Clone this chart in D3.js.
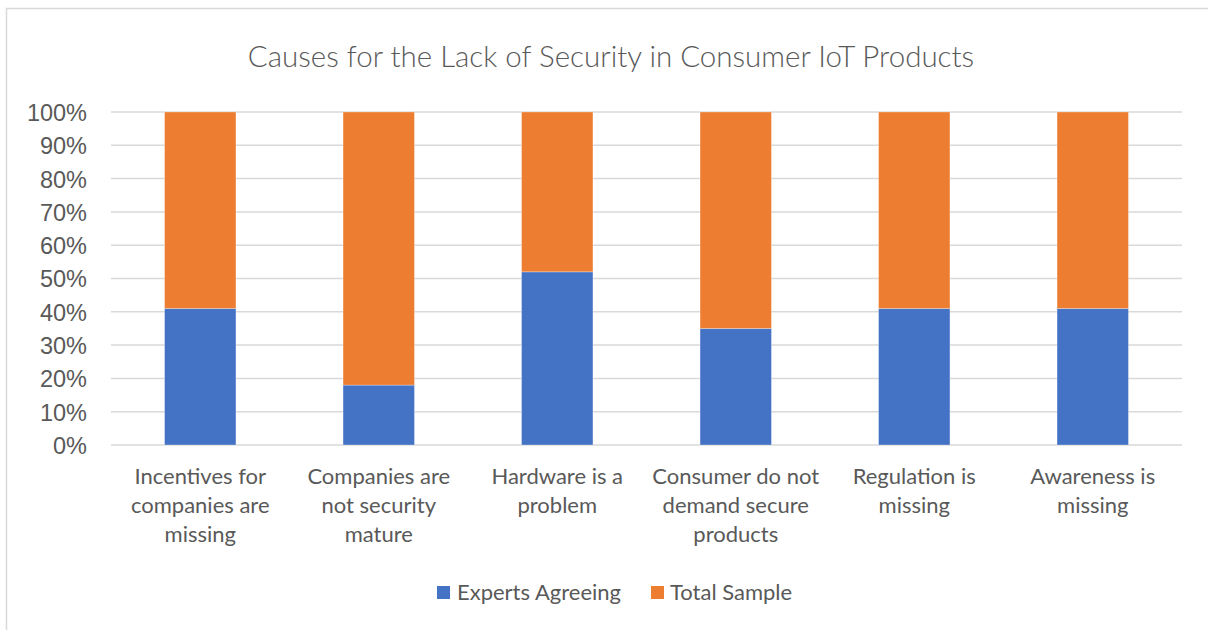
<!DOCTYPE html>
<html>
<head>
<meta charset="utf-8">
<script src="https://cdn.jsdelivr.net/npm/d3@7"></script>
<style>
  html, body { margin: 0; padding: 0; background: #fff; }
  svg { display: block; }
</style>
</head>
<body>
<svg id="chart" width="1208" height="630"></svg>
<script>
// Chart data
const categories = [
  ["Incentives for", "companies are", "missing"],
  ["Companies are", "not security", "mature"],
  ["Hardware is a", "problem"],
  ["Consumer do not", "demand secure", "products"],
  ["Regulation is", "missing"],
  ["Awareness is", "missing"]
];
const expertsAgreeing = [41, 18, 52, 35, 41, 41];
const totalSample = [59, 82, 48, 65, 59, 59];
const seriesNames = ["Experts Agreeing", "Total Sample"];
const seriesColors = ["#4472C4", "#ED7D31"];
const yTicks = [0, 10, 20, 30, 40, 50, 60, 70, 80, 90, 100];
const titleText = "Causes for the Lack of Security in Consumer IoT Products";

const svg = d3.select("#chart");
const W = 1208, H = 630;
const plot = { left: 111, right: 1182, top: 112, bottom: 445 };
const textColor = "#595959";
const calibriLike = "Lato, 'Open Sans', sans-serif";

// chart frame
svg.append("rect")
  .attr("x", 6.5).attr("y", 8.5)
  .attr("width", W + 10).attr("height", H + 10)
  .attr("fill", "#fff").attr("stroke", "#d9d9d9").attr("stroke-width", 1.5);

// title
svg.append("text")
  .attr("x", 611).attr("y", 67)
  .attr("text-anchor", "middle")
  .attr("font-family", calibriLike)
  .attr("font-weight", 300)
  .attr("font-size", 29.5)
  .attr("fill", textColor)
  .text(titleText);

const keys = categories.map((c, i) => i);
const x = d3.scaleBand().domain(keys).range([plot.left, plot.right]).paddingInner(0.6).paddingOuter(0.3);
const y = d3.scaleLinear().domain([0, 100]).range([plot.bottom, plot.top]);

// y gridlines
svg.append("g")
  .selectAll("line")
  .data(yTicks)
  .join("line")
  .attr("x1", plot.left).attr("x2", plot.right)
  .attr("y1", d => y(d)).attr("y2", d => y(d))
  .attr("stroke", "#d9d9d9").attr("stroke-width", 1.5);

// y axis labels
const yAxis = d3.axisLeft(y).tickValues(yTicks).tickFormat(d => d + "%").tickSize(0).tickPadding(0);
const yg = svg.append("g").attr("transform", `translate(${plot.left - 24},0)`).call(yAxis);
yg.select(".domain").remove();
yg.selectAll("text")
  .attr("font-family", "'Liberation Sans', Arial, sans-serif")
  .attr("font-size", 23.5)
  .attr("fill", textColor)
  .attr("dy", "0.36em");

// stacked bars
const rows = keys.map(i => ({ i, a: expertsAgreeing[i], b: totalSample[i] }));
const stack = d3.stack().keys(["a", "b"]);
const stacked = stack(rows);

svg.append("g")
  .selectAll("g")
  .data(stacked)
  .join("g")
  .attr("fill", (d, si) => seriesColors[si])
  .selectAll("rect")
  .data(d => d)
  .join("rect")
  .attr("x", d => x(d.data.i))
  .attr("width", x.bandwidth())
  .attr("y", d => y(d[1]))
  .attr("height", d => y(d[0]) - y(d[1]))
  .attr("stroke", "#ffffff").attr("stroke-opacity", 0.4).attr("stroke-width", 0.75);

// category labels
const catG = svg.append("g");
categories.forEach((lines, i) => {
  const t = catG.append("text")
    .attr("x", x(i) + x.bandwidth() / 2)
    .attr("y", 484)
    .attr("text-anchor", "middle")
    .attr("font-family", calibriLike)
    .attr("font-size", 22)
    .attr("fill", textColor);
  lines.forEach((ln, k) => {
    t.append("tspan").attr("x", x(i) + x.bandwidth() / 2).attr("dy", k === 0 ? 0 : 29).text(ln);
  });
});

// legend
const legend = svg.append("g");
const legendItems = [{ x: 437, tx: 457 }, { x: 651, tx: 670 }];
seriesNames.forEach((name, si) => {
  legend.append("rect")
    .attr("x", legendItems[si].x).attr("y", 586)
    .attr("width", 13).attr("height", 13)
    .attr("fill", seriesColors[si]);
  legend.append("text")
    .attr("x", legendItems[si].tx).attr("y", 600)
    .attr("font-family", calibriLike)
    .attr("font-size", 22)
    .attr("fill", textColor)
    .text(name);
});
</script>
</body>
</html>
